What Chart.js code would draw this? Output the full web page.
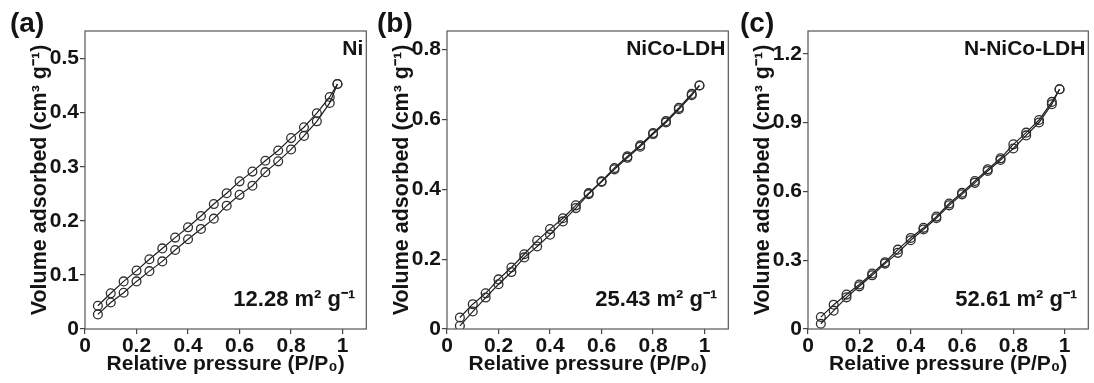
<!DOCTYPE html>
<html>
<head>
<meta charset="utf-8">
<script src="https://cdn.jsdelivr.net/npm/chart.js@4.4.1/dist/chart.umd.min.js"></script>
<style>
    html, body { margin: 0; padding: 0; background: #fff; }
    #wrap { position: relative; width: 1094px; height: 383px; overflow: hidden; }
    .panel { position: absolute; top: 0; height: 383px; }
</style>
</head>
<body>
<div id="wrap">
    <div class="panel" style="left:0;width:372px"><canvas id="chartA"></canvas></div>
    <div class="panel" style="left:362px;width:372px"><canvas id="chartB"></canvas></div>
    <div class="panel" style="left:723px;width:371px"><canvas id="chartC"></canvas></div>
</div>
<script>
    // relative pressure P/P0, same for every branch
    const pressure = [0.05, 0.10, 0.15, 0.20, 0.25, 0.30, 0.35, 0.40, 0.45, 0.50,
        0.55, 0.60, 0.65, 0.70, 0.75, 0.80, 0.85, 0.90, 0.95, 0.98];

    // (a) Ni
    const niAds = [0.027, 0.049, 0.067, 0.088, 0.107, 0.125, 0.146, 0.166, 0.185, 0.204,
        0.228, 0.248, 0.265, 0.290, 0.310, 0.332, 0.357, 0.384, 0.418, 0.453];
    const niDes = [0.043, 0.066, 0.088, 0.108, 0.129, 0.149, 0.169, 0.188, 0.209, 0.231,
        0.251, 0.273, 0.291, 0.311, 0.330, 0.353, 0.373, 0.399, 0.429, 0.453];

    // (b) NiCo-LDH
    const ldhAds = [0.009, 0.050, 0.090, 0.128, 0.163, 0.205, 0.236, 0.270, 0.308, 0.346,
        0.386, 0.421, 0.457, 0.490, 0.522, 0.558, 0.591, 0.629, 0.669, 0.697];
    const ldhDes = [0.033, 0.071, 0.102, 0.142, 0.176, 0.214, 0.253, 0.286, 0.317, 0.354,
        0.389, 0.423, 0.461, 0.494, 0.526, 0.561, 0.595, 0.633, 0.673, 0.697];

    // (c) N-NiCo-LDH
    const nLdhAds = [0.023, 0.080, 0.138, 0.186, 0.234, 0.285, 0.332, 0.387, 0.434, 0.483,
        0.539, 0.587, 0.637, 0.689, 0.737, 0.787, 0.844, 0.900, 0.980, 1.045];
    const nLdhDes = [0.052, 0.106, 0.150, 0.194, 0.242, 0.291, 0.346, 0.397, 0.441, 0.490,
        0.547, 0.594, 0.645, 0.696, 0.744, 0.805, 0.856, 0.911, 0.990, 1.045];

    const xTicks = [0, 0.2, 0.4, 0.6, 0.8, 1];
    const panels = [
        {id: 'chartA', letter: '(a)', name: 'Ni', area: '12.28 m² g⁻¹', ads: niAds, des: niDes,
            yMax: 0.551, yStep: 0.1, yTop: 0.5, letterX: 10, padRight: 3},
        {id: 'chartB', letter: '(b)', name: 'NiCo-LDH', area: '25.43 m² g⁻¹', ads: ldhAds, des: ldhDes,
            yMax: 0.853, yStep: 0.2, yTop: 0.8, letterX: 15, padRight: 3},
        {id: 'chartC', letter: '(c)', name: 'N-NiCo-LDH', area: '52.61 m² g⁻¹', ads: nLdhAds, des: nLdhDes,
            yMax: 1.299, yStep: 0.3, yTop: 1.2, letterX: 17, padRight: 2}
    ];

    const FONT = '"Liberation Sans", Arial, sans-serif';
    const INK = '#141414';

    function fmt(v) {
        return String(Math.round(v * 10) / 10);
    }

    // frame around plot area + panel labels
    const decor = {
        id: 'decor',
        afterDraw(chart, args, opts) {
            const {ctx, chartArea: ca} = chart;
            ctx.save();
            ctx.strokeStyle = '#555';
            ctx.lineWidth = 1.2;
            ctx.strokeRect(ca.left, ca.top, ca.right - ca.left, ca.bottom - ca.top);

            ctx.fillStyle = INK;
            ctx.textBaseline = 'alphabetic';
            ctx.font = 'bold 28px ' + FONT;
            ctx.textAlign = 'left';
            ctx.fillText(opts.letter, opts.letterX, 32);

            ctx.font = 'bold 21px ' + FONT;
            ctx.textAlign = 'right';
            ctx.fillText(opts.name, ca.right - 3, 55);

            ctx.font = 'bold 22px ' + FONT;
            ctx.fillText(opts.area, ca.right - 11, 306);
            ctx.restore();
        }
    };

    panels.forEach((p) => {
        const ctx = document.getElementById(p.id).getContext('2d');
        const branch = (vals) => pressure.map((x, i) => ({x: x, y: vals[i]}));
        const style = {
            showLine: true,
            borderColor: '#1e1e1e',
            borderWidth: 1.2,
            pointRadius: 4.4,
            pointBorderWidth: 1.3,
            pointBorderColor: '#2e2e2e',
            pointBackgroundColor: 'rgba(255,255,255,0)'
        };

        new Chart(ctx, {
            type: 'scatter',
            data: {
                datasets: [
                    Object.assign({label: 'adsorption', data: branch(p.ads)}, style),
                    Object.assign({label: 'desorption', data: branch(p.des)}, style)
                ]
            },
            options: {
                responsive: true,
                maintainAspectRatio: false,
                animation: false,
                layout: {padding: {top: 31, right: p.padRight, left: 0, bottom: 0}},
                plugins: {
                    legend: {display: false},
                    tooltip: {enabled: false},
                    decor: p
                },
                scales: {
                    x: {
                        type: 'linear',
                        min: 0,
                        max: 1.092,
                        afterBuildTicks: (s) => { s.ticks = xTicks.map((v) => ({value: v})); },
                        afterFit: (s) => { s.height = 54; },
                        border: {display: false},
                        grid: {drawOnChartArea: false, drawTicks: true, tickLength: 5, color: '#444', lineWidth: 1.2},
                        ticks: {
                            color: INK, padding: 0, maxRotation: 0,
                            font: {family: FONT, size: 21, weight: 'bold'},
                            callback: (v) => fmt(v)
                        },
                        title: {
                            display: true,
                            text: 'Relative pressure (P/P₀)',
                            color: INK,
                            padding: {top: 0, bottom: 6},
                            font: {family: FONT, size: 21, weight: 'bold'}
                        }
                    },
                    y: {
                        type: 'linear',
                        min: 0,
                        max: p.yMax,
                        afterBuildTicks: (s) => {
                            const t = [];
                            for (let v = 0; v <= p.yTop + 1e-6; v += p.yStep) t.push({value: Math.round(v * 10) / 10});
                            s.ticks = t;
                        },
                        afterFit: (s) => { s.width = 85; },
                        border: {display: false},
                        grid: {drawOnChartArea: false, drawTicks: true, tickLength: 5, color: '#444', lineWidth: 1.2},
                        ticks: {
                            color: INK, padding: 1,
                            font: {family: FONT, size: 21, weight: 'bold'},
                            callback: (v) => fmt(v)
                        },
                        title: {
                            display: true,
                            text: 'Volume adsorbed (cm³ g⁻¹)',
                            color: INK,
                            padding: {top: 27, bottom: 0},
                            font: {family: FONT, size: 21.5, weight: 'bold'}
                        }
                    }
                }
            },
            plugins: [decor]
        });
    });
</script>
</body>
</html>
